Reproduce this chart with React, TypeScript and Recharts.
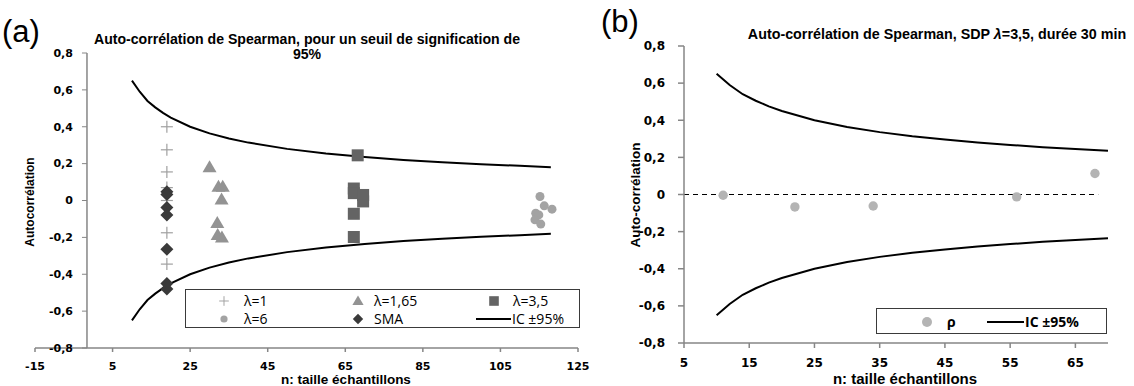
import React from 'react';
import { ComposedChart, Scatter, Line, XAxis, YAxis, ReferenceLine, Legend } from 'recharts';

// ---------- (a) Auto-corrélation de Spearman, seuil 95% ----------
const lambda1 = [
  { n: 19, v: 0.4 },
  { n: 19, v: 0.275 },
  { n: 19, v: 0.155 },
  { n: 19, v: 0.07 },
  { n: 19, v: 0.0 },
  { n: 19, v: -0.175 },
  { n: 19, v: -0.345 },
];
const lambda165 = [
  { n: 30, v: 0.18 },
  { n: 32.3, v: 0.075 },
  { n: 33.4, v: 0.075 },
  { n: 33.1, v: 0.005 },
  { n: 32, v: -0.122 },
  { n: 32.1, v: -0.187 },
  { n: 33.2, v: -0.2 },
];
const lambda35 = [
  { n: 68.2, v: 0.245 },
  { n: 67.2, v: 0.065 },
  { n: 67.2, v: 0.04 },
  { n: 69.6, v: 0.03 },
  { n: 69.6, v: -0.005 },
  { n: 67.2, v: -0.072 },
  { n: 67.2, v: -0.198 },
];
const lambda6 = [
  { n: 115.2, v: 0.022 },
  { n: 116.3, v: -0.029 },
  { n: 118.3, v: -0.047 },
  { n: 114.1, v: -0.069 },
  { n: 114.9, v: -0.078 },
  { n: 113.9, v: -0.105 },
  { n: 115.4, v: -0.128 },
];
const sma = [
  { n: 19, v: 0.048 },
  { n: 19, v: 0.032 },
  { n: 19, v: -0.038 },
  { n: 19, v: -0.078 },
  { n: 19, v: -0.265 },
  { n: 19, v: -0.45 },
  { n: 19, v: -0.48 },
];
const icUpperA = [
  { n: 10, v: 0.65 }, { n: 12, v: 0.59 }, { n: 14, v: 0.54 }, { n: 16, v: 0.505 },
  { n: 18, v: 0.475 }, { n: 20, v: 0.45 }, { n: 25, v: 0.4 }, { n: 30, v: 0.364 },
  { n: 35, v: 0.336 }, { n: 40, v: 0.314 }, { n: 50, v: 0.28 }, { n: 60, v: 0.255 },
  { n: 70, v: 0.236 }, { n: 80, v: 0.22 }, { n: 90, v: 0.208 }, { n: 100, v: 0.197 },
  { n: 110, v: 0.188 }, { n: 118, v: 0.181 },
];
const icLowerA = [
  { n: 10, v: -0.65 }, { n: 12, v: -0.59 }, { n: 14, v: -0.54 }, { n: 16, v: -0.505 },
  { n: 18, v: -0.475 }, { n: 20, v: -0.45 }, { n: 25, v: -0.4 }, { n: 30, v: -0.364 },
  { n: 35, v: -0.336 }, { n: 40, v: -0.314 }, { n: 50, v: -0.28 }, { n: 60, v: -0.255 },
  { n: 70, v: -0.236 }, { n: 80, v: -0.22 }, { n: 90, v: -0.208 }, { n: 100, v: -0.197 },
  { n: 110, v: -0.188 }, { n: 118, v: -0.181 },
];
const xTicksA = [-15, 5, 25, 45, 65, 85, 105, 125];
const yTicks = [-0.8, -0.6, -0.4, -0.2, 0, 0.2, 0.4, 0.6, 0.8];

// ---------- (b) SDP λ=3,5, durée 30 min ----------
const rho = [
  { n: 11, v: -0.004 },
  { n: 22, v: -0.067 },
  { n: 34, v: -0.062 },
  { n: 56, v: -0.013 },
  { n: 68, v: 0.113 },
];
const zeroLine = [
  { n: 5, v: 0 },
  { n: 68.5, v: 0 },
];
const icUpperB = [
  { n: 10, v: 0.65 }, { n: 12, v: 0.59 }, { n: 14, v: 0.54 }, { n: 16, v: 0.505 },
  { n: 18, v: 0.475 }, { n: 20, v: 0.45 }, { n: 25, v: 0.4 }, { n: 30, v: 0.364 },
  { n: 35, v: 0.336 }, { n: 40, v: 0.314 }, { n: 45, v: 0.296 }, { n: 50, v: 0.28 },
  { n: 55, v: 0.267 }, { n: 60, v: 0.255 }, { n: 65, v: 0.245 }, { n: 70, v: 0.236 },
];
const icLowerB = [
  { n: 10, v: -0.65 }, { n: 12, v: -0.59 }, { n: 14, v: -0.54 }, { n: 16, v: -0.505 },
  { n: 18, v: -0.475 }, { n: 20, v: -0.45 }, { n: 25, v: -0.4 }, { n: 30, v: -0.364 },
  { n: 35, v: -0.336 }, { n: 40, v: -0.314 }, { n: 45, v: -0.296 }, { n: 50, v: -0.28 },
  { n: 55, v: -0.267 }, { n: 60, v: -0.255 }, { n: 65, v: -0.245 }, { n: 70, v: -0.236 },
];
const xTicksB = [5, 15, 25, 35, 45, 55, 65];

const AXIS = '#868686';
const TICK_FONT = '"DejaVu Sans", sans-serif';
const ARIAL = '"Liberation Sans", Arial, sans-serif';
const LEG_FONT = '"Open Sans", sans-serif';

const fmt = (v: number) => (Math.abs(v) < 1e-9 ? '0' : v.toFixed(1).replace('.', ','));

// marker shapes
const Plus = ({ cx, cy }: any) => (
  <g stroke="#a0a0a0" strokeWidth={1.2}>
    <line x1={cx - 6} x2={cx + 6} y1={cy} y2={cy} />
    <line x1={cx} x2={cx} y1={cy - 6} y2={cy + 6} />
  </g>
);
const Tri = ({ cx, cy }: any) => (
  <polygon points={`${cx},${cy - 7} ${cx - 7},${cy + 5} ${cx + 7},${cy + 5}`} fill="#939393" />
);
const Sq = ({ cx, cy }: any) => <rect x={cx - 6} y={cy - 6} width={12} height={12} fill="#646464" />;
const Dot = ({ cx, cy, r = 4.5, fill = '#a3a3a3' }: any) => <circle cx={cx} cy={cy} r={r} fill={fill} />;
const Diam = ({ cx, cy }: any) => (
  <polygon points={`${cx},${cy - 6.5} ${cx + 6.5},${cy} ${cx},${cy + 6.5} ${cx - 6.5},${cy}`} fill="#3a3a3a" />
);

// layout of chart (a)
const A_W = 600;
const A_H = 386;
const A_MARGIN = { top: 53, right: 22, bottom: 8, left: 0 };
const A_YAXIS_W = 35;
const A_XMIN = -15;
const A_XMAX = 125;
const A_YCROSS = -1.6; // the vertical axis crosses the horizontal one here
const A_PLOT_W = A_W - A_MARGIN.left - A_YAXIS_W - A_MARGIN.right;
const A_CROSS_PX = A_MARGIN.left + A_YAXIS_W + ((A_YCROSS - A_XMIN) / (A_XMAX - A_XMIN)) * A_PLOT_W;

const LeftYTick = (props: any) => {
  const { y, payload } = props;
  return (
    <g>
      <line x1={A_CROSS_PX - 5} x2={A_CROSS_PX} y1={y} y2={y} stroke={AXIS} />
      <text x={A_CROSS_PX - 14} y={y} dy="0.35em" textAnchor="end" fontFamily={TICK_FONT} fontWeight="bold" fontSize={11} fill="#000">
        {fmt(payload.value)}
      </text>
    </g>
  );
};

const legendA = [
  { label: 'λ=1', Mark: Plus },
  { label: 'λ=1,65', Mark: Tri },
  { label: 'λ=3,5', Mark: Sq },
  { label: 'λ=6', Mark: Dot },
  { label: 'SMA', Mark: Diam },
  { label: 'IC ±95%', Mark: null },
];

const LegendA = () => (
  <svg width={395} height={39} style={{ display: 'block', border: '1px solid #3a3a3a', background: '#fff', boxSizing: 'border-box' }}>
    {legendA.map((it, i) => {
      const col = i % 3;
      const row = Math.floor(i / 3);
      const cy = row === 0 ? 11 : 29;
      const mx = [38, 172, 308][col];
      const tx = [58, 188, 327][col];
      return (
        <g key={it.label}>
          {it.Mark ? (
            <g transform={`translate(${mx},${cy}) scale(0.8)`}>
              <it.Mark cx={0} cy={0} />
            </g>
          ) : (
            <line x1={290} x2={325} y1={cy} y2={cy} stroke="#000" strokeWidth={2} />
          )}
          <text x={it.Mark ? tx : 326} y={cy} dy="0.36em" fontFamily={LEG_FONT} fontSize={14} fill="#000">
            {it.label}
          </text>
        </g>
      );
    })}
  </svg>
);

const LegendB = () => (
  <svg width={231} height={26} style={{ display: 'block', border: '1px solid #3a3a3a', background: '#fff', boxSizing: 'border-box' }}>
    <circle cx={50} cy={13} r={5} fill="#b4b4b4" />
    <text x={70} y={13} dy="0.36em" fontFamily={LEG_FONT} fontWeight="bold" fontSize={14}>ρ</text>
    <line x1={110} x2={147} y1={13} y2={13} stroke="#000" strokeWidth={2} />
    <text x={148} y={13} dy="0.36em" fontFamily={LEG_FONT} fontWeight="bold" fontSize={14}>IC ±95%</text>
  </svg>
);

const ChartA = () => (
  <ComposedChart width={A_W} height={A_H} margin={A_MARGIN}>
    <XAxis
      type="number"
      dataKey="n"
      domain={[A_XMIN, A_XMAX]}
      ticks={xTicksA}
      allowDataOverflow
      stroke={AXIS}
      strokeWidth={1.5}
      tickSize={4}
      tickMargin={10}
      height={30}
      tick={{ fontFamily: TICK_FONT, fontWeight: 'bold', fontSize: 11, fill: '#000' }}
    />
    <YAxis
      type="number"
      dataKey="v"
      domain={[-0.8, 0.8]}
      ticks={yTicks}
      width={A_YAXIS_W}
      axisLine={false}
      tickLine={false}
      tick={<LeftYTick />}
    />
    <ReferenceLine x={A_YCROSS} stroke={AXIS} strokeWidth={1.5} />
    <Line data={icUpperA} dataKey="v" type="linear" stroke="#000" strokeWidth={2} dot={false} isAnimationActive={false} legendType="none" />
    <Line data={icLowerA} dataKey="v" type="linear" stroke="#000" strokeWidth={2} dot={false} isAnimationActive={false} legendType="none" />
    <Scatter data={lambda1} dataKey="v" shape={(p: any) => <Plus cx={p.cx} cy={p.cy} />} isAnimationActive={false} />
    <Scatter data={lambda165} dataKey="v" shape={(p: any) => <Tri cx={p.cx} cy={p.cy} />} isAnimationActive={false} />
    <Scatter data={lambda35} dataKey="v" shape={(p: any) => <Sq cx={p.cx} cy={p.cy} />} isAnimationActive={false} />
    <Scatter data={lambda6} dataKey="v" shape={(p: any) => <Dot cx={p.cx} cy={p.cy} />} isAnimationActive={false} />
    <Scatter data={sma} dataKey="v" shape={(p: any) => <Diam cx={p.cx} cy={p.cy} />} isAnimationActive={false} />
    <Legend
      layout="horizontal"
      verticalAlign="middle"
      align="center"
      content={<LegendA />}
      wrapperStyle={{ left: 185, top: 289, width: 395, height: 39 }}
    />
  </ComposedChart>
);

// layout of chart (b)
const B_W = 544;
const B_H = 386;

const ChartB = () => (
  <ComposedChart width={B_W} height={B_H} margin={{ top: 46, right: 26, bottom: 13, left: 0 }}>
    <XAxis
      type="number"
      dataKey="n"
      domain={[5, 70]}
      ticks={xTicksB}
      allowDataOverflow
      stroke={AXIS}
      strokeWidth={1.5}
      tickSize={5}
      tickMargin={10}
      height={30}
      tick={{ fontFamily: TICK_FONT, fontWeight: 'bold', fontSize: 12, fill: '#000' }}
    />
    <YAxis
      type="number"
      dataKey="v"
      domain={[-0.8, 0.8]}
      ticks={yTicks}
      width={94}
      stroke={AXIS}
      strokeWidth={1.5}
      tickSize={6}
      tickMargin={13}
      tickFormatter={fmt}
      tick={{ fontFamily: TICK_FONT, fontWeight: 'bold', fontSize: 12, fill: '#000' }}
    />
    <Line data={zeroLine} dataKey="v" type="linear" stroke="#000" strokeWidth={1} strokeDasharray="5 4" dot={false} isAnimationActive={false} legendType="none" />
    <Line data={icUpperB} dataKey="v" type="linear" stroke="#000" strokeWidth={2} dot={false} isAnimationActive={false} legendType="none" />
    <Line data={icLowerB} dataKey="v" type="linear" stroke="#000" strokeWidth={2} dot={false} isAnimationActive={false} legendType="none" />
    <Scatter data={rho} dataKey="v" shape={(p: any) => <Dot cx={p.cx} cy={p.cy} r={4.7} fill="#b4b4b4" />} isAnimationActive={false} />
    <Legend
      layout="horizontal"
      verticalAlign="middle"
      align="center"
      content={<LegendB />}
      wrapperStyle={{ left: 286, top: 308, width: 231, height: 26 }}
    />
  </ComposedChart>
);

const abs = (s: React.CSSProperties): React.CSSProperties => ({ position: 'absolute', whiteSpace: 'nowrap', ...s });

export default function App() {
  return (
    <div style={{ position: 'absolute', left: 0, top: 0, width: 1134, height: 386, background: '#fff', overflow: 'hidden' }}>
      <div style={abs({ left: 590, top: 0 })}>
        <ChartB />
      </div>
      <div style={abs({ left: 0, top: 0 })}>
        <ChartA />
      </div>

      <div style={abs({ left: 2, top: 14, fontFamily: ARIAL, fontSize: 31, lineHeight: '36px' })}>(a)</div>
      <div style={abs({ left: 601, top: 4, fontFamily: ARIAL, fontSize: 31, lineHeight: '36px' })}>(b)</div>

      <div style={abs({ left: 307, top: 32, transform: 'translateX(-50%)', textAlign: 'center', fontFamily: ARIAL, fontWeight: 'bold', fontSize: 14.1, lineHeight: '15px' })}>
        Auto-corrélation de Spearman, pour un seuil de signification de
        <br />
        95%
      </div>
      <div style={abs({ left: 937, top: 26, transform: 'translateX(-50%)', fontFamily: ARIAL, fontWeight: 'bold', fontSize: 14.3, lineHeight: '16px' })}>
        Auto-corrélation de Spearman, SDP <i>λ</i>=3,5, durée 30 min
      </div>

      <div style={abs({ left: 30, top: 202, transform: 'translate(-50%,-50%) rotate(-90deg)', fontFamily: ARIAL, fontWeight: 'bold', fontSize: 12 })}>
        Autocorrélation
      </div>
      <div style={abs({ left: 635, top: 195, transform: 'translate(-50%,-50%) rotate(-90deg)', fontFamily: ARIAL, fontWeight: 'bold', fontSize: 13.5 })}>
        Auto-corrélation
      </div>
      <div style={abs({ left: 346, top: 373, transform: 'translateX(-50%)', fontFamily: ARIAL, fontWeight: 'bold', fontSize: 13.5, lineHeight: '13px' })}>
        n: taille échantillons
      </div>
      <div style={abs({ left: 905, top: 372, transform: 'translateX(-50%)', fontFamily: ARIAL, fontWeight: 'bold', fontSize: 15, lineHeight: '14px' })}>
        n: taille échantillons
      </div>
    </div>
  );
}
